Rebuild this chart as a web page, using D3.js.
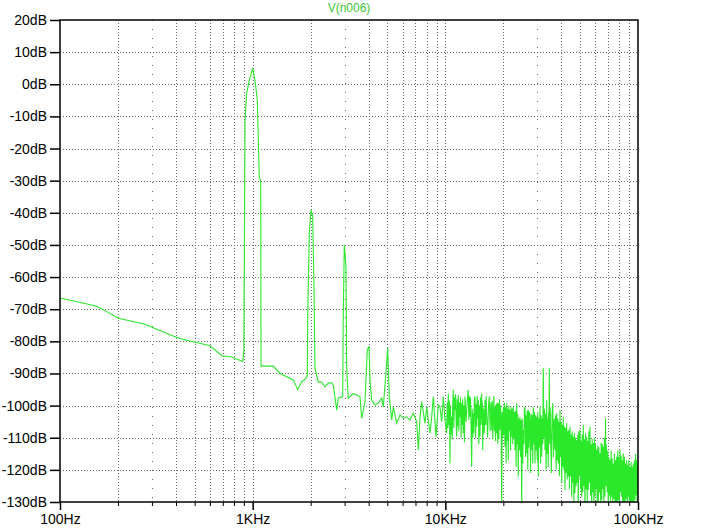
<!DOCTYPE html>
<html>
<head>
<meta charset="utf-8">
<script src="https://cdn.jsdelivr.net/npm/d3@7"></script>
<style>
  body { margin: 0; background: #fff; }
  svg { display: block; }
  .tick text { font-family: "Liberation Sans", Arial, sans-serif; font-size: 14px; fill: #000; }
</style>
</head>
<body>
<svg id="chart" width="708" height="531"></svg>
<script>
const title = 'V(n006)';
const dbTicks = [-130, -120, -110, -100, -90, -80, -70, -60, -50, -40, -30, -20, -10, 0, 10, 20];
const decades = [100, 1000, 10000, 100000];
const decadeLabels = ['100Hz', '1KHz', '10KHz', '100KHz'];

// fundamental + harmonics part, Hz / dB
const freqHarm = [100, 152, 165, 201, 276, 380, 428, 601, 691, 778, 888, 900, 913, 931, 961, 1000,
  1028, 1057, 1082, 1101, 1105, 1279, 1386, 1625, 1713, 1797, 1869, 1921, 1932, 1968, 2008, 2049,
  2081, 2106, 2191, 2282, 2373, 2469, 2572, 2627, 2730, 2783, 2898, 2933, 2950, 2989, 3050, 3076,
  3135, 3330, 3606, 3680, 3828, 3935, 4015, 4064, 4147, 4314, 4487, 4674, 4764, 4961, 5021, 5118,
  5267, 5369, 5592, 5818, 6052, 6302, 6556, 6819, 7102, 7239, 7388, 7540, 7844, 8005, 8326, 8497,
  8661, 8945, 9194, 9383, 9575, 9760, 9959];
const dbHarm = [-66.5, -68.9, -69.9, -72.8, -74.7, -78.2, -79.3, -81.4, -84.5, -84.9, -86.3, -82.7, -11.1, -2.7, 1.3, 5.0,
  1.3, -4.9, -29.2, -29.8, -87.7, -87.7, -90.0, -92.0, -95.0, -92.6, -91.8, -90.8, -70.8, -46.3, -39.1, -41.2,
  -63.0, -88.4, -92.7, -92.7, -94.2, -93.0, -92.9, -93.9, -101.4, -97.6, -97.3, -97.3, -74.3, -50.0, -56.8, -87.9,
  -97.7, -96.2, -97.2, -104.0, -98.8, -82.7, -81.5, -92.0, -98.3, -99.8, -99.3, -97.7, -100.4, -86.8, -82.1, -97.2,
  -104.5, -100.4, -105.5, -102.9, -104.0, -103.5, -104.5, -102.4, -105.0, -113.8, -103.5, -98.8, -105.5, -100.4, -108.6, -103.5,
  -97.2, -109.7, -99.8, -100.4, -105.0, -97.2, -104.5];

// noise floor part, kHz / dB
const freqNoise = [
  10.16, 10.23, 10.30, 10.36, 10.43, 10.50, 10.57, 10.64, 10.72, 10.79, 10.86, 10.93,
  11.00, 11.07, 11.15, 11.22, 11.30, 11.37, 11.45, 11.52, 11.60, 11.67, 11.75, 11.83,
  11.91, 11.99, 12.08, 12.16, 12.24, 12.31, 12.39, 12.48, 12.56, 12.65, 12.82, 12.98,
  13.15, 13.24, 13.34, 13.43, 13.52, 13.61, 13.70, 13.79, 13.88, 13.97, 14.06, 14.15,
  14.25, 14.35, 14.45, 14.55, 14.64, 14.74, 14.83, 14.93, 15.03, 15.13, 15.23, 15.34,
  15.44, 15.50, 15.57, 15.63, 15.77, 15.92, 16.06, 16.17, 16.29, 16.40, 16.57, 16.74,
  16.91, 17.08, 17.24, 17.41, 17.52, 17.63, 17.74, 17.86, 17.98, 18.10, 18.22, 18.35,
  18.47, 18.59, 18.71, 18.83, 18.96, 19.08, 19.21, 19.34, 19.48, 19.61, 19.74, 19.86,
  19.99, 20.13, 20.26, 20.40, 20.54, 20.68, 20.82, 20.95, 21.09, 21.22, 21.37, 21.51,
  21.66, 21.81, 21.95, 22.10, 22.24, 22.39, 22.53, 22.68, 22.84, 22.99, 23.15, 23.30,
  23.46, 23.61, 23.76, 23.91, 24.07, 24.24, 24.40, 24.57, 24.74, 24.91, 25.07, 25.23,
  25.39, 25.56, 25.74, 25.91, 26.09, 26.26, 26.44, 26.61, 26.78, 26.95, 27.13, 27.32,
  27.50, 27.69, 27.88, 28.07, 28.25, 28.43, 28.61, 28.81, 29.00, 29.20, 29.40, 29.60,
  29.80, 29.99, 30.18, 30.37, 30.58, 30.79, 31.00, 31.21, 31.42, 31.63, 31.83, 32.04,
  32.24, 32.46, 32.68, 32.90, 33.13, 33.35, 33.58, 33.79, 34.01, 34.22, 34.36, 34.50,
  34.64, 34.84, 35.03, 35.23, 35.51, 35.80, 36.08, 36.42, 36.75, 37.09, 37.34, 37.60,
  37.85, 38.09, 38.34, 38.58, 38.84, 39.11, 39.37, 39.64, 39.91, 40.18, 40.44, 40.69,
  40.95, 41.23, 41.51, 41.79, 42.08, 42.36, 42.65, 42.92, 43.20, 43.47, 43.77, 44.06,
  44.36, 44.66, 44.97, 45.27, 45.56, 45.85, 46.14, 46.46, 46.77, 47.09, 47.41, 47.73,
  48.05, 48.36, 48.67, 48.98, 49.31, 49.65, 49.98, 50.32, 50.67, 51.01, 51.34, 51.67,
  52.00, 52.35, 52.71, 53.06, 53.42, 53.79, 54.15, 54.50, 54.86, 55.21, 55.59, 55.96,
  56.34, 56.72, 57.11, 57.49, 57.86, 58.24, 58.61, 59.01, 59.41, 59.81, 60.22, 60.63,
  61.04, 61.43, 61.83, 62.22, 62.64, 63.07, 63.49, 63.92, 64.36, 64.79, 65.21, 65.62,
  66.04, 66.49, 66.95, 67.40, 67.53, 67.67, 67.80, 68.13, 68.45, 68.78, 69.22, 69.67,
  70.11, 70.59, 71.07, 71.55, 72.04, 72.53, 73.02, 73.49, 73.96, 74.43, 74.94, 75.45,
  75.96, 76.48, 76.99, 77.51, 78.01, 78.50, 79.00, 79.54, 80.08, 80.62, 81.17, 81.73,
  82.28, 82.81, 83.34, 83.87, 84.44, 85.02, 85.59, 86.18, 86.76, 87.35, 87.91, 88.48,
  89.04, 89.65, 90.25, 90.86, 91.48, 92.11, 92.73, 93.33, 93.93, 94.53, 95.18, 95.82,
  96.47, 97.13, 97.79, 98.45, 98.97, 99.48, 100.0];
const dbNoise = [
  -108.6, -99.0, -107.0, -96.2, -106.0, -98.5, -118.0, -100.0, -109.0, -103.5, -110.5, -99.5,
  -95.1, -107.0, -97.5, -101.4, -96.5, -104.0, -109.7, -98.0, -106.5, -96.7, -108.0, -99.0,
  -103.5, -97.5, -110.0, -99.3, -106.0, -98.0, -108.6, -100.0, -111.5, -97.2, -105.0, -99.0,
  -95.1, -104.5, -97.0, -103.5, -97.5, -108.0, -119.0, -101.0, -110.0, -102.4, -108.5, -98.0,
  -97.2, -110.0, -99.5, -106.6, -97.0, -104.0, -98.3, -112.0, -100.0, -109.7, -97.5, -106.0,
  -96.2, -104.0, -99.0, -113.8, -101.0, -108.5, -98.3, -106.0, -97.0, -103.5, -110.0, -100.5,
  -97.2, -108.0, -99.0, -107.6, -98.5, -110.5, -103.5, -97.0, -108.0, -100.4, -111.0, -99.5,
  -108.6, -99.0, -112.0, -99.3, -110.5, -98.0, -107.6, -100.0, -104.0, -133, -102.0, -110.0,
  -100.4, -109.0, -99.0, -112.8, -100.5, -118.0, -99.3, -111.0, -101.0, -116.9, -100.0, -108.0,
  -101.4, -114.0, -100.5, -109.7, -101.0, -112.0, -100.4, -110.0, -102.0, -113.8, -101.5, -119.0,
  -99.3, -112.0, -102.5, -122.1, -104.0, -114.0, -103.5, -116.0, -104.5, -133, -104.0, -118.0,
  -107.6, -112.0, -101.0, -100.4, -116.0, -103.0, -114.8, -101.5, -120.0, -101.4, -113.0, -102.0,
  -105.0, -121.0, -102.5, -113.8, -103.0, -118.0, -100.4, -112.0, -102.0, -118.0, -103.0, -114.0,
  -103.5, -117.0, -102.0, -122.1, -104.0, -113.0, -100.4, -118.0, -103.0, -115.9, -104.0, -112.0,
  -88.4, -110.0, -101.0, -113.8, -102.5, -120.0, -98.3, -115.0, -104.0, -119.0, -102.0, -110.0,
  -88.4, -112.0, -100.5, -109.7, -121.0, -103.0, -99.3, -116.0, -104.0, -113.8, -103.0, -120.0,
  -102.4, -117.0, -104.0, -118.0, -105.0, -122.0, -101.4, -116.0, -105.0, -124.2, -106.0, -119.0,
  -103.5, -120.0, -106.5, -126.3, -107.0, -121.0, -105.5, -123.0, -108.0, -122.1, -107.5, -126.0,
  -106.6, -122.0, -109.0, -128.4, -108.0, -124.0, -109.7, -130.0, -108.5, -127.3, -110.0, -125.0,
  -110.7, -124.0, -109.0, -133, -108.0, -122.0, -107.6, -126.0, -111.0, -128.4, -109.0, -127.0,
  -106.0, -125.0, -110.5, -133, -108.5, -126.0, -109.7, -130.0, -111.0, -126.3, -108.0, -124.0,
  -106.6, -128.0, -112.0, -133, -110.5, -127.0, -111.7, -131.0, -110.0, -128.4, -112.0, -126.0,
  -113.8, -131.0, -112.5, -133, -113.0, -127.0, -114.8, -130.0, -111.5, -129.4, -112.0, -126.0,
  -112.8, -131.0, -110.0, -128.4, -112.0, -122.0, -103.9, -125.0, -112.0, -115.9, -127.0, -114.0,
  -133, -116.0, -128.0, -116.9, -132.0, -114.0, -128.4, -116.5, -131.0, -118.0, -129.0, -115.0,
  -133, -117.0, -130.0, -115.9, -131.0, -114.0, -129.4, -116.0, -133.0, -113.8, -127.0, -115.5,
  -128.4, -117.0, -132.0, -114.8, -130.0, -116.0, -133, -118.0, -129.0, -116.9, -132.0, -118.5,
  -128.4, -117.0, -133.0, -119.0, -130.0, -117.5, -133, -119.0, -131.0, -118.0, -133.0, -117.0,
  -129.4, -115.0, -128.0, -116.9, -131.0, -118.0, -124.2];

const svg = d3.select('#chart');
const plotL = 60, plotR = 638, plotT = 20, plotB = 502;

const x = d3.scaleLog().domain([100, 100000]).range([plotL, plotR]);
const y = d3.scaleLinear().domain([-130, 20]).range([plotB, plotT]);

const minors = [];
decades.slice(0, 3).forEach((d) => {
  for (let k = 2; k <= 9; k++) minors.push(d * k);
});

// grid
const grid = svg.append('g').attr('stroke', '#6a6a6a').attr('stroke-width', 1);
grid.selectAll('line.h')
  .data(dbTicks.filter((d) => d > -130 && d < 20))
  .enter()
  .append('line')
  .attr('x1', plotL).attr('x2', plotR)
  .attr('y1', (d) => Math.round(y(d)) + 0.5).attr('y2', (d) => Math.round(y(d)) + 0.5)
  .attr('stroke-dasharray', '1,2');
grid.selectAll('line.v')
  .data(minors.concat([1000, 10000]))
  .enter()
  .append('line')
  .attr('y1', plotT).attr('y2', plotB)
  .attr('x1', (d) => Math.round(x(d)) + 0.5).attr('x2', (d) => Math.round(x(d)) + 0.5)
  .attr('stroke-dasharray', (d) => (String(d)[0] === '3' ? '1,8' : '1,2'));

// trace
svg.append('clipPath').attr('id', 'plot-clip')
  .append('rect').attr('x', plotL).attr('y', plotT).attr('width', plotR - plotL).attr('height', plotB - plotT);

const points = freqHarm.map((f, i) => [f, dbHarm[i]])
  .concat(freqNoise.map((f, i) => [f * 1000, dbNoise[i]]));

const line = d3.line()
  .x((d) => x(d[0]))
  .y((d) => y(d[1]));

svg.append('path')
  .datum(points)
  .attr('clip-path', 'url(#plot-clip)')
  .attr('fill', 'none')
  .attr('stroke', '#2be82b')
  .attr('stroke-width', 1.1)
  .attr('d', line);

// frame
svg.append('rect')
  .attr('x', plotL).attr('y', plotT)
  .attr('width', plotR - plotL).attr('height', plotB - plotT)
  .attr('fill', 'none').attr('stroke', '#000').attr('stroke-width', 1.5);

// axes
const yAxis = svg.append('g')
  .attr('transform', `translate(${plotL},0)`)
  .call(d3.axisLeft(y).tickValues(dbTicks).tickSize(10).tickPadding(3).tickSizeOuter(0)
    .tickFormat((d) => `${d}dB`));
yAxis.select('.domain').remove();
yAxis.selectAll('.tick line').attr('stroke-width', 1.5);

const xMajor = svg.append('g')
  .attr('transform', `translate(0,${plotB})`)
  .call(d3.axisBottom(x).tickValues(decades).tickSize(8).tickPadding(4).tickSizeOuter(0)
    .tickFormat((d, i) => decadeLabels[i]));
xMajor.select('.domain').remove();
xMajor.selectAll('.tick line').attr('stroke-width', 1.5);

const xMinor = svg.append('g')
  .attr('transform', `translate(0,${plotB})`)
  .call(d3.axisBottom(x).tickValues(minors).tickSize(4).tickSizeOuter(0).tickFormat(''));
xMinor.select('.domain').remove();

svg.append('text')
  .attr('x', (plotL + plotR) / 2)
  .attr('y', 12)
  .attr('text-anchor', 'middle')
  .attr('font-family', '"Liberation Sans", Arial, sans-serif')
  .attr('font-size', 12)
  .attr('fill', '#3cc83c')
  .text(title);
</script>
</body>
</html>
